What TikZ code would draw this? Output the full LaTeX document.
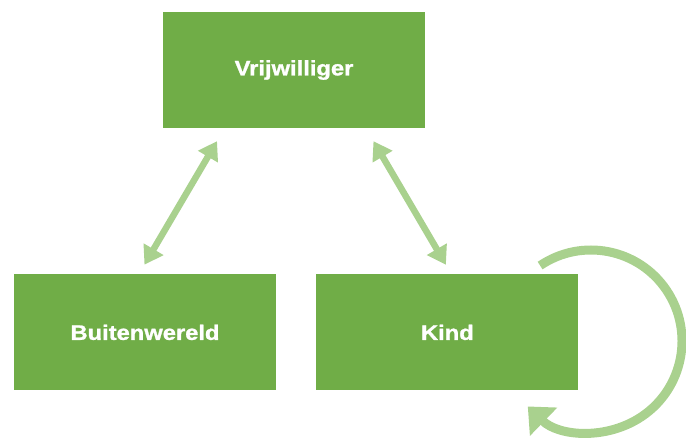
\documentclass[tikz,border=0pt]{standalone}
\usepackage{fontspec}
\setmainfont{Liberation Sans}
\newfontface\boxfont{Liberation Sans Bold}[FakeBold=1.2]
\usepackage{graphicx}
\usetikzlibrary{positioning,arrows.meta,calc}
\definecolor{boxgreen}{HTML}{70AD47}
\definecolor{arrowgreen}{HTML}{A9D18E}
\newcommand{\boxlabel}[1]{\scalebox{1.13}[1]{#1}}
\tikzset{
	greenbox/.style={rectangle,fill=boxgreen,minimum width=262pt,minimum height=116pt,inner sep=0pt,text=white,font=\boxfont\fontsize{21}{21}\selectfont},
	linkarrow/.style={draw=arrowgreen,line width=6.5pt,{Triangle[length=18pt,width=22pt]}-{Triangle[length=18pt,width=22pt]}},
	selfarrow/.style={draw=arrowgreen,line width=9pt,-{Triangle[length=22pt,width=38pt]}}
}
\begin{document}
\begin{tikzpicture}[x=1pt,y=-1pt]
		\useasboundingbox (0,0) rectangle (686,437);
		\node[greenbox] (vrij) at (294,70) {\boxlabel{Vrijwilliger}};
		\node[greenbox] (buiten) [below=146pt of vrij, xshift=-149pt] {\boxlabel{Buitenwereld}};
		\node[greenbox] (kind) [right=40pt of buiten] {\boxlabel{Kind}};
		\coordinate (loopc) at (591,341);

		\draw[linkarrow,shorten <=15pt,shorten >=11pt] (vrij.-140) -- (buiten.96);
		\draw[linkarrow,shorten <=15pt,shorten >=11pt] (vrij.-39) -- (kind.86);
		\draw[selfarrow] ($(loopc)+(-124:91)$) arc[start angle=-124,end angle=134,radius=91];
		\end{tikzpicture}
\end{document}
